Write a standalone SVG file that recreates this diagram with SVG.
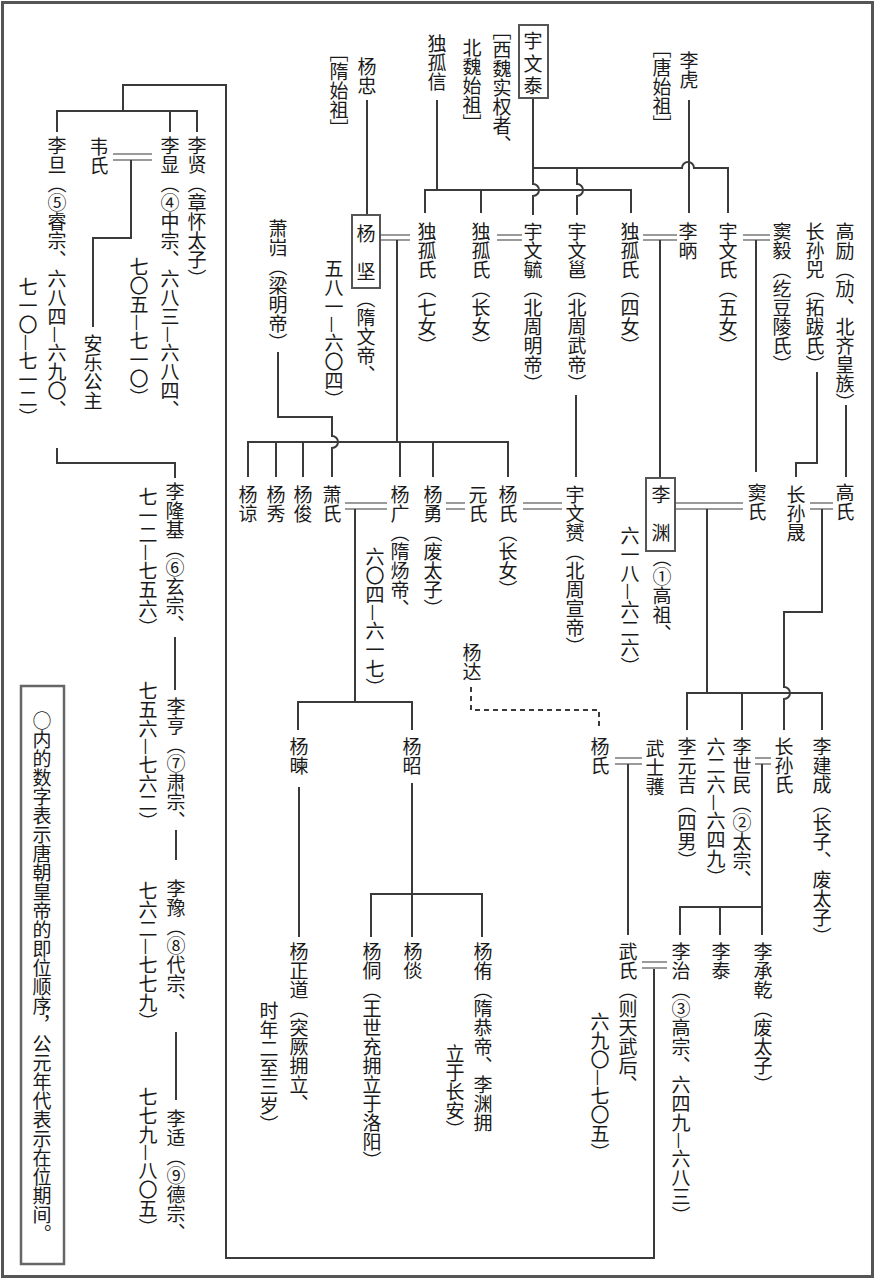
<svg xmlns="http://www.w3.org/2000/svg" width="876" height="1280" viewBox="0 0 876 1280">
<style>
.v{font-family:"Noto Sans CJK SC","Noto Sans CJK JP",sans-serif;font-size:19px;writing-mode:vertical-rl;letter-spacing:0px;fill:#1a1a1a}
.ln{fill:none;stroke:#3a3a3a;stroke-width:2}
.dl{fill:none;stroke:#9a9a9a;stroke-width:2}
.ds{fill:none;stroke:#3a3a3a;stroke-width:2;stroke-dasharray:5 4}
.bx{fill:#fff;stroke:#555;stroke-width:2}
</style>
<rect width="876" height="1280" fill="#fff"/>
<rect x="2.5" y="2.5" width="870" height="1274" fill="none" stroke="#555" stroke-width="3"/>
<g id="connectors">
<path class="ln" d="M123,110 V85 H226 V1258 H654 V968"/>
<path class="ln" d="M57,132 V111 H197 V132 M170,111 V132"/>
<path class="dl" d="M113,154 H152 M113,160 H152"/>
<path class="ln" d="M131,160 V238 H93 V327"/>
<path class="ln" d="M57,448 V463 H175 V478"/>
<path class="ln" d="M175,637 V690 M176,830 V860 M176,1032 V1100"/>
<path class="ln" d="M367,100 V215"/>
<path class="ln" d="M437,100 V190"/>
<path class="ln" d="M425,213 V190 H631 V213 M481,190 V213"/>
<path class="ln" d="M533,98 V184 A6,6 0 0 1 533,196 V215"/>
<path class="ln" d="M533,168 H682 A6,6 0 0 1 694,168 H728 V213"/>
<path class="ln" d="M577,168 V184 A6,6 0 0 1 577,196 V215"/>
<path class="ln" d="M689,100 V213"/>
<path class="dl" d="M380,235 H410 M380,240 H410"/>
<path class="ln" d="M397,240 V442"/>
<path class="dl" d="M497,235 H522 M497,240 H522"/>
<path class="dl" d="M643,235 H677 M643,240 H677"/>
<path class="ln" d="M660,240 V478"/>
<path class="dl" d="M743,235 H770 M743,240 H770"/>
<path class="ln" d="M756,240 V472"/>
<path class="ln" d="M817,372 V463 H796 V477"/>
<path class="ln" d="M846,405 V477"/>
<path class="ln" d="M576,395 V477"/>
<path class="ln" d="M278,352 V417 H332 V436 A6,6 0 0 1 332,448 V477"/>
<path class="ln" d="M248,477 V442 H508 V477 M276,442 V477 M303,442 V477 M400,442 V477 M433,442 V477"/>
<path class="dl" d="M345,503 H387 M345,509 H387"/>
<path class="ln" d="M355,509 V702"/>
<path class="ln" d="M298,730 V702 H412 V730"/>
<path class="dl" d="M446,503 H465 M446,509 H465"/>
<path class="dl" d="M523,503 H562 M523,509 H562"/>
<path class="dl" d="M675,503 H743 M675,509 H743"/>
<path class="ln" d="M707,509 V693"/>
<path class="ln" d="M687,730 V693 H822 V730 M742,693 V730"/>
<path class="dl" d="M810,503 H833 M810,509 H833"/>
<path class="ln" d="M822,509 V612 H784 V687 A6,6 0 0 1 784,699 V730"/>
<path class="ds" d="M471,687 V710 H599 V730"/>
<path class="dl" d="M615,758 H642 M615,764 H642"/>
<path class="ln" d="M628,764 V935"/>
<path class="dl" d="M755,758 H771 M755,764 H771"/>
<path class="ln" d="M762,764 V935 M680,935 V907 H762 M720,907 V935"/>
<path class="ln" d="M299,787 V937"/>
<path class="ln" d="M412,783 V937 M371,937 V894 H482 V937"/>
<path class="dl" d="M642,962 H667 M642,968 H667"/>
</g>
<g id="n-lixian"><text class="v" x="197" y="136">李贤（章怀太子）</text></g>
<g id="n-lixian-zz"><text class="v" x="170" y="136">李显（④中宗、六八三—六八四、</text><text class="v" x="139" y="257">七〇五—七一〇）</text></g>
<g id="n-weishi"><text class="v" x="99" y="137">韦氏</text></g>
<g id="n-anle"><text class="v" x="93" y="334">安乐公主</text></g>
<g id="n-lidan"><text class="v" x="57" y="136">李旦（⑤睿宗、六八四—六九〇、</text><text class="v" x="28" y="277">七一〇—七一二）</text></g>
<g id="n-lilongji"><text class="v" x="175" y="482">李隆基（⑥玄宗、</text><text class="v" x="148" y="487">七一二—七五六）</text></g>
<g id="n-liheng"><text class="v" x="176" y="697">李亨（⑦肃宗、</text><text class="v" x="148" y="681">七五六—七六二）</text></g>
<g id="n-liyu"><text class="v" x="176" y="879">李豫（⑧代宗、</text><text class="v" x="148" y="881">七六二—七七九）</text></g>
<g id="n-likuo"><text class="v" x="176" y="1109">李适（⑨德宗、</text><text class="v" x="148" y="1087">七七九—八〇五）</text></g>
<g id="legend"><rect x="21" y="686" width="43" height="578" fill="none" stroke="#666" stroke-width="2.5"/><text class="v" x="42" y="711">○内的数字表示唐朝皇帝的即位顺序，公元年代表示在位期间。</text></g>
<g id="n-yuwentai"><rect class="bx" x="519" y="25" width="29" height="73"/><text class="v" x="533" y="31.5" style="letter-spacing:3.5px">宇文泰</text><text class="v" x="502" y="21">［西魏实权者、</text><text class="v" x="472" y="38">北魏始祖］</text></g>
<g id="n-duguxin"><text class="v" x="437" y="34">独孤信</text></g>
<g id="n-yangzhong"><text class="v" x="367" y="57">杨忠</text><text class="v" x="339" y="43">［隋始祖］</text></g>
<g id="n-lihu"><text class="v" x="689" y="51">李虎</text><text class="v" x="662" y="39">［唐始祖］</text></g>
<g id="n-yangjian"><rect class="bx" x="352" y="215" width="28" height="73"/><text class="v" x="366" y="224.5" style="letter-spacing:19px">杨坚</text><text class="v" x="366" y="289">（隋文帝、</text><text class="v" x="334" y="259">五八一—六〇四）</text></g>
<g id="n-dugu7"><text class="v" x="427" y="222">独孤氏（七女）</text></g>
<g id="n-dugu1"><text class="v" x="481" y="222">独孤氏（长女）</text></g>
<g id="n-yuwenyu"><text class="v" x="533" y="222">宇文毓（北周明帝）</text></g>
<g id="n-yuwenyong"><text class="v" x="577" y="222">宇文邕（北周武帝）</text></g>
<g id="n-dugu4"><text class="v" x="630" y="222">独孤氏（四女）</text></g>
<g id="n-libing"><text class="v" x="688" y="222">李昞</text></g>
<g id="n-yuwenshi"><text class="v" x="728" y="222">宇文氏（五女）</text></g>
<g id="n-douyi"><text class="v" x="782" y="222">窦毅（纥豆陵氏）</text></g>
<g id="n-zhangsunsi"><text class="v" x="815" y="222">长孙兕（拓跋氏）</text></g>
<g id="n-gaoli"><text class="v" x="845" y="222">高励（劢、北齐皇族）</text></g>
<g id="n-xiaokui"><text class="v" x="278" y="219">萧岿（梁明帝）</text></g>
<g id="n-yangliang"><text class="v" x="248" y="485">杨谅</text></g>
<g id="n-yangxiu"><text class="v" x="276" y="485">杨秀</text></g>
<g id="n-yangjun"><text class="v" x="303" y="485">杨俊</text></g>
<g id="n-xiaoshi"><text class="v" x="332" y="485">萧氏</text></g>
<g id="n-yangguang"><text class="v" x="400" y="485">杨广（隋炀帝、</text><text class="v" x="375" y="547">六〇四—六一七）</text></g>
<g id="n-yangyong"><text class="v" x="433" y="485">杨勇（废太子）</text></g>
<g id="n-yuanshi"><text class="v" x="478" y="485">元氏</text></g>
<g id="n-yangshi-a"><text class="v" x="508" y="485">杨氏（长女）</text></g>
<g id="n-yuwenyun"><text class="v" x="575" y="485">宇文赟（北周宣帝）</text></g>
<g id="n-liyuan"><rect class="bx" x="646" y="478" width="29" height="73"/><text class="v" x="661" y="485.5" style="letter-spacing:19px">李渊</text><text class="v" x="662" y="548">（①高祖、</text><text class="v" x="630" y="526">六一八—六二六）</text></g>
<g id="n-doushi"><text class="v" x="757" y="483">窦氏</text></g>
<g id="n-zhangsunsheng"><text class="v" x="796" y="485">长孙晟</text></g>
<g id="n-gaoshi"><text class="v" x="845" y="483">高氏</text></g>
<g id="n-yangda"><text class="v" x="472" y="643">杨达</text></g>
<g id="n-yangjian-son"><text class="v" x="299" y="737">杨暕</text></g>
<g id="n-yangzhao"><text class="v" x="412" y="737">杨昭</text></g>
<g id="n-yangshi-b"><text class="v" x="600" y="737">杨氏</text></g>
<g id="n-wushihuo"><text class="v" x="655" y="739">武士彟</text></g>
<g id="n-liyuanji"><text class="v" x="687" y="737">李元吉（四男）</text></g>
<g id="n-lishimin"><text class="v" x="742" y="737">李世民（②太宗、</text><text class="v" x="716" y="737">六二六—六四九）</text></g>
<g id="n-zhangsunshi"><text class="v" x="784" y="737">长孙氏</text></g>
<g id="n-lijiancheng"><text class="v" x="822" y="737">李建成（长子、废太子）</text></g>
<g id="n-yangzhengdao"><text class="v" x="299" y="942">杨正道（突厥拥立、</text><text class="v" x="269" y="1001">时年二至三岁）</text></g>
<g id="n-yangtong"><text class="v" x="372" y="942">杨侗（王世充拥立于洛阳）</text></g>
<g id="n-yangtan"><text class="v" x="413" y="942">杨倓</text></g>
<g id="n-yangyou"><text class="v" x="483" y="942">杨侑（隋恭帝、李渊拥</text><text class="v" x="455" y="1044">立于长安）</text></g>
<g id="n-wushi"><text class="v" x="628" y="942">武氏（则天武后、</text><text class="v" x="600" y="1012">六九〇—七〇五）</text></g>
<g id="n-lizhi"><text class="v" x="681" y="942">李治（③高宗、六四九—六八三）</text></g>
<g id="n-litai"><text class="v" x="721" y="942">李泰</text></g>
<g id="n-lichengqian"><text class="v" x="763" y="942">李承乾（废太子）</text></g>
</svg>
